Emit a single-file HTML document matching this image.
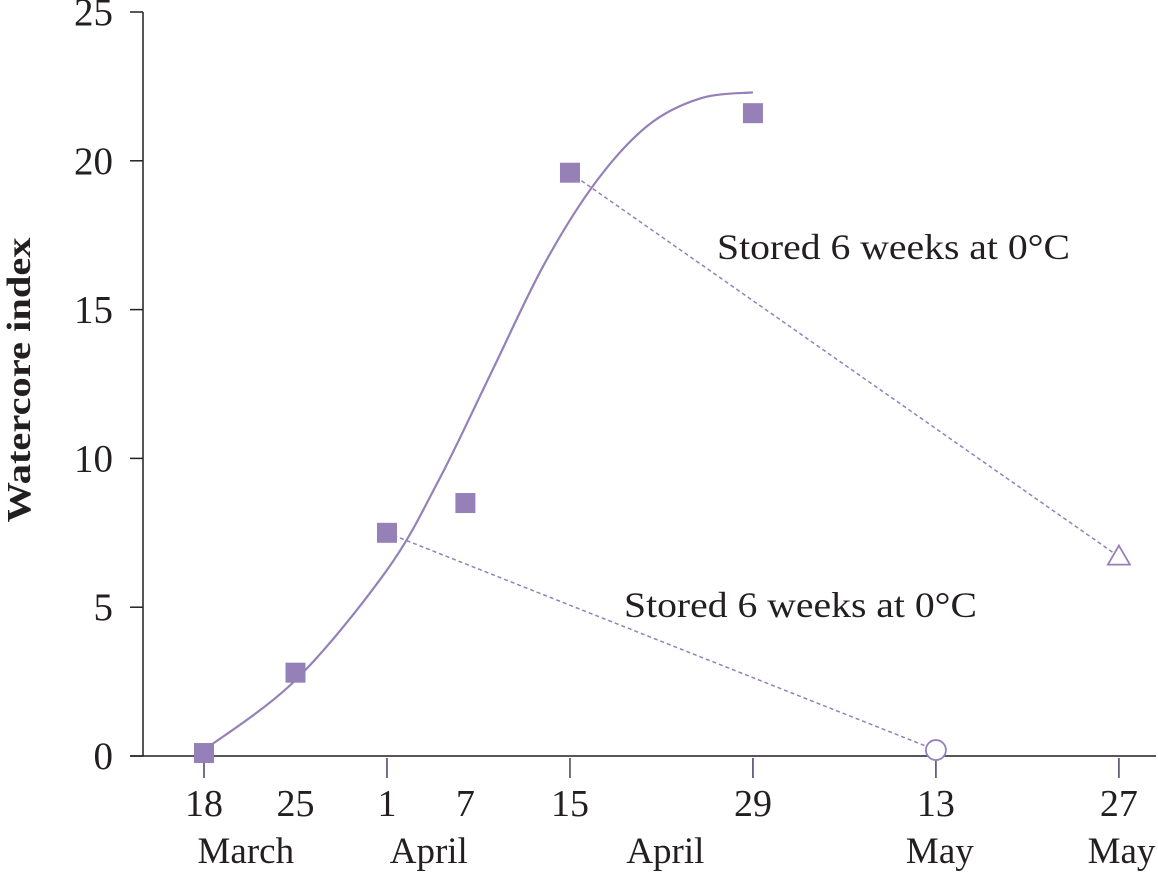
<!DOCTYPE html>
<html><head><meta charset="utf-8"><style>
body{margin:0;background:#fff}
svg text{font-family:"Liberation Serif",serif;fill:#231f20}
</style></head><body>
<svg id="chart" width="1158" height="873" viewBox="0 0 1158 873" xmlns="http://www.w3.org/2000/svg"></svg>
<script>
const tickDays=[0,7,14,20,28,42,56,70];
const tickLabels=["18","25","1","7","15","29","13","27"];
const monthNames=["March","April","April","May","May"];
const monthDays=[3.2,17.2,35.3,56.3,70.2];
const majorTickDays=[0,14,28,42,56,70];
const yTicks=[0,5,10,15,20,25];
const sqDays=[0,7,14,20,28,42];
const sqVals=[0.1,2.8,7.5,8.5,19.6,21.6];
const curveDays=[0,7,14,18,22,26,30,34,38,42];
const curveVals=[0.2,2.55,6.25,9.3,12.9,16.5,19.3,21.2,22.1,22.3];
const circleDay=56, circleVal=0.2;
const triDay=70, triVal=6.7;
const svg=document.getElementById('chart');
const NS='http://www.w3.org/2000/svg';
const X=d=>204+d*13.07;
const Y=v=>756-v*29.76;
const purple='#9580b8', dark='#4a3d63';
function mk(tag,attrs,parent){const e=document.createElementNS(NS,tag);for(const k in attrs)e.setAttribute(k,attrs[k]);(parent||svg).appendChild(e);return e;}
let a=mk('line',{x1:143,y1:12,x2:143,y2:756,stroke:'#231f20','stroke-width':1.5});


a=mk('line',{x1:130,y1:756,x2:1156,y2:756,stroke:'#231f20','stroke-width':1.5});


yTicks.forEach(v=>{
 const t=mk('line',{x1:130,x2:143,y1:Y(v),y2:Y(v),stroke:'#231f20','stroke-width':1.5});
 
 
 const l=mk('text',{x:113,y:Y(v)+13,'text-anchor':'end','font-size':39});
 l.textContent=v;
 
 
});
majorTickDays.forEach(d=>{
 const t=mk('line',{x1:X(d),x2:X(d),y1:758,y2:778,stroke:dark,'stroke-width':1.5});
 
 
});
tickDays.forEach((d,i)=>{
 const l=mk('text',{x:X(d),y:816,'text-anchor':'middle','font-size':38});
 l.textContent=tickLabels[i];
 
 
});
monthNames.forEach((m,i)=>{
 const l=mk('text',{x:X(monthDays[i]),y:863,'text-anchor':'middle','font-size':37});
 l.textContent=m;
 
 
});
const yt=mk('text',{x:0,y:0,'text-anchor':'middle','font-size':34,'font-weight':'bold',textLength:285,lengthAdjust:'spacingAndGlyphs',transform:'translate(30,380) rotate(-90)'});
yt.textContent='Watercore index';


const P=curveDays.map((d,i)=>[X(d),Y(curveVals[i])]);
let path=`M${P[0][0]},${P[0][1]}`;
for(let i=0;i<P.length-1;i++){
 const p0=P[i-1]||P[i],p1=P[i],p2=P[i+1],p3=P[i+2]||P[i+1];
 path+=` C${p1[0]+(p2[0]-p0[0])/6},${p1[1]+(p2[1]-p0[1])/6} ${p2[0]-(p3[0]-p1[0])/6},${p2[1]-(p3[1]-p1[1])/6} ${p2[0]},${p2[1]}`;
}
const c=mk('path',{d:path,fill:'none',stroke:purple,'stroke-width':2.2});


let dl=mk('line',{x1:X(sqDays[2]),y1:Y(sqVals[2]),x2:X(circleDay),y2:Y(circleVal),stroke:purple,'stroke-width':1.5,'stroke-dasharray':'4,3'});


dl=mk('line',{x1:X(sqDays[4]),y1:Y(sqVals[4]),x2:X(triDay),y2:Y(triVal),stroke:purple,'stroke-width':1.5,'stroke-dasharray':'4,3'});


sqDays.forEach((d,i)=>{
 const s=mk('rect',{x:X(d)-10,y:Y(sqVals[i])-10,width:20,height:20,fill:purple});
 
 
});
const ci=mk('circle',{cx:X(circleDay),cy:Y(circleVal),r:10,fill:'#fff',stroke:purple,'stroke-width':1.8});


const tx=X(triDay),ty=Y(triVal);
const tr=mk('polygon',{points:`${tx},${ty-11} ${tx-11},${ty+8} ${tx+11},${ty+8}`,fill:'#fff',stroke:purple,'stroke-width':1.8});


let an=mk('text',{x:717,y:259,'font-size':36,textLength:353,lengthAdjust:'spacingAndGlyphs'});
an.textContent='Stored 6 weeks at 0°C';


an=mk('text',{x:624,y:617,'font-size':36,textLength:353,lengthAdjust:'spacingAndGlyphs'});
an.textContent='Stored 6 weeks at 0°C';


</script>
</body></html>
